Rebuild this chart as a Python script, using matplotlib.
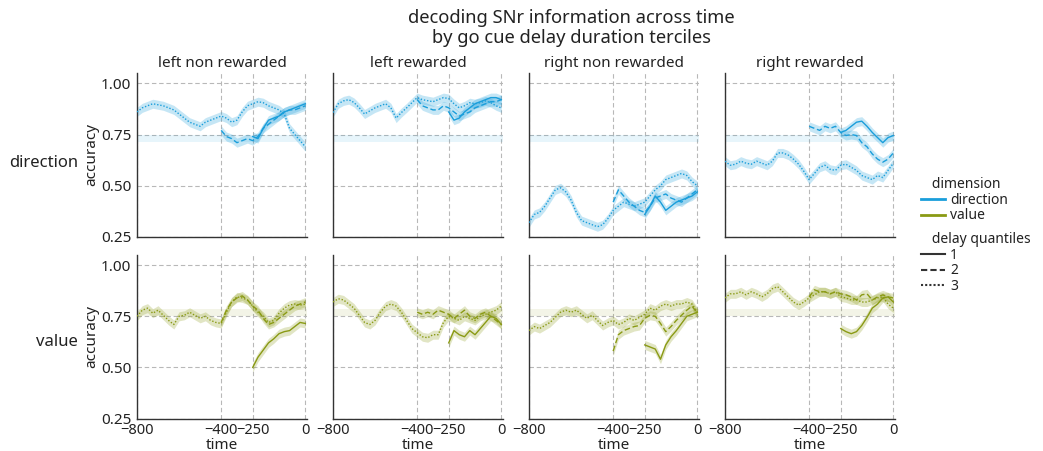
import matplotlib
matplotlib.use("Agg")
import matplotlib.pyplot as plt
from matplotlib.lines import Line2D
import numpy as np

plt.rcParams['font.family'] = ['Noto Sans', 'DejaVu Sans']

# ---------------- data ----------------
columns = ["left non rewarded", "left rewarded", "right non rewarded", "right rewarded"]
rows = ["direction", "value"]
quantiles = ["1", "2", "3"]
xticks = [-800, -400, -250, 0]
yticks = [0.25, 0.50, 0.75, 1.00]

time_q3 = list(range(-800, 1, 25))
time_q2 = list(range(-400, 1, 25))
time_q1 = list(range(-250, 1, 25))

# direction row
dir_lnr_q3 = [0.86, 0.88, 0.89, 0.90, 0.895, 0.89, 0.88, 0.87, 0.85, 0.83, 0.81, 0.80, 0.79, 0.81, 0.82, 0.83, 0.84,
              0.83, 0.81, 0.82, 0.86, 0.89, 0.90, 0.91, 0.905, 0.89, 0.88, 0.87, 0.85, 0.78, 0.75, 0.72, 0.69]
dir_lnr_q2 = [0.77, 0.74, 0.73, 0.71, 0.72, 0.73, 0.72, 0.74, 0.78, 0.80, 0.82, 0.84, 0.86, 0.87, 0.87, 0.88, 0.89]
dir_lnr_q1 = [0.74, 0.73, 0.78, 0.82, 0.83, 0.84, 0.86, 0.87, 0.88, 0.89, 0.90]

dir_lr_q3 = [0.857, 0.90, 0.914, 0.92, 0.906, 0.88, 0.85, 0.865, 0.88, 0.89, 0.90, 0.88, 0.83, 0.857, 0.88, 0.905, 0.93,
             0.92, 0.915, 0.91, 0.92, 0.93, 0.925, 0.90, 0.88, 0.89, 0.905, 0.90, 0.905, 0.914, 0.905, 0.89, 0.88]
dir_lr_q2 = [0.92, 0.89, 0.88, 0.87, 0.87, 0.89, 0.88, 0.86, 0.84, 0.85, 0.86, 0.88, 0.89, 0.90, 0.91, 0.91, 0.92]
dir_lr_q1 = [0.86, 0.82, 0.83, 0.86, 0.88, 0.90, 0.91, 0.92, 0.93, 0.93, 0.92]

dir_rnr_q3 = [0.32, 0.36, 0.37, 0.40, 0.44, 0.48, 0.49, 0.47, 0.43, 0.37, 0.33, 0.32, 0.31, 0.30, 0.31, 0.34, 0.38,
              0.40, 0.42, 0.41, 0.40, 0.41, 0.42, 0.45, 0.48, 0.50, 0.53, 0.54, 0.55, 0.56, 0.55, 0.52, 0.50]
dir_rnr_q2 = [0.42, 0.48, 0.45, 0.42, 0.40, 0.38, 0.37, 0.40, 0.44, 0.45, 0.46, 0.44, 0.43, 0.42, 0.44, 0.46, 0.48]
dir_rnr_q1 = [0.36, 0.40, 0.45, 0.42, 0.38, 0.40, 0.42, 0.43, 0.44, 0.45, 0.47]

dir_rr_q3 = [0.62, 0.60, 0.605, 0.62, 0.61, 0.605, 0.62, 0.61, 0.60, 0.62, 0.66, 0.66, 0.65, 0.63, 0.605, 0.57, 0.53,
             0.56, 0.59, 0.60, 0.58, 0.575, 0.60, 0.605, 0.59, 0.575, 0.55, 0.54, 0.53, 0.55, 0.54, 0.575, 0.61]
dir_rr_q2 = [0.79, 0.78, 0.77, 0.79, 0.78, 0.79, 0.76, 0.745, 0.75, 0.745, 0.71, 0.69, 0.655, 0.63, 0.615, 0.63, 0.66]
dir_rr_q1 = [0.76, 0.77, 0.79, 0.81, 0.815, 0.79, 0.76, 0.735, 0.71, 0.735, 0.745]

# value row
val_lnr_q3 = [0.75, 0.78, 0.79, 0.765, 0.78, 0.755, 0.73, 0.71, 0.75, 0.755, 0.77, 0.755, 0.74, 0.75, 0.73, 0.72, 0.715,
              0.77, 0.82, 0.845, 0.84, 0.83, 0.80, 0.77, 0.75, 0.72, 0.73, 0.765, 0.79, 0.805, 0.81, 0.805, 0.81]
val_lnr_q2 = [0.72, 0.78, 0.82, 0.84, 0.85, 0.83, 0.80, 0.78, 0.74, 0.71, 0.72, 0.74, 0.76, 0.78, 0.80, 0.81, 0.82]
val_lnr_q1 = [0.50, 0.55, 0.585, 0.62, 0.64, 0.665, 0.675, 0.68, 0.70, 0.72, 0.715]

val_lr_q3 = [0.82, 0.836, 0.83, 0.81, 0.79, 0.755, 0.72, 0.71, 0.73, 0.77, 0.80, 0.81, 0.80, 0.77, 0.73, 0.69, 0.67,
             0.65, 0.645, 0.66, 0.66, 0.72, 0.75, 0.74, 0.73, 0.75, 0.74, 0.73, 0.75, 0.76, 0.77, 0.78, 0.80]
val_lr_q2 = [0.77, 0.76, 0.77, 0.76, 0.78, 0.77, 0.76, 0.74, 0.76, 0.78, 0.75, 0.74, 0.76, 0.77, 0.75, 0.73, 0.71]
val_lr_q1 = [0.62, 0.68, 0.66, 0.65, 0.68, 0.66, 0.69, 0.72, 0.75, 0.74, 0.71]

val_rnr_q3 = [0.68, 0.70, 0.69, 0.705, 0.72, 0.745, 0.77, 0.78, 0.77, 0.78, 0.76, 0.74, 0.755, 0.73, 0.705, 0.72, 0.73,
              0.71, 0.72, 0.74, 0.73, 0.745, 0.76, 0.79, 0.78, 0.80, 0.81, 0.80, 0.81, 0.81, 0.82, 0.81, 0.77]
val_rnr_q2 = [0.58, 0.66, 0.68, 0.69, 0.70, 0.705, 0.74, 0.755, 0.75, 0.715, 0.675, 0.70, 0.73, 0.755, 0.78, 0.80, 0.765]
val_rnr_q1 = [0.61, 0.60, 0.59, 0.54, 0.61, 0.65, 0.68, 0.715, 0.75, 0.76, 0.77]

val_rr_q3 = [0.84, 0.86, 0.86, 0.87, 0.855, 0.87, 0.86, 0.845, 0.86, 0.885, 0.895, 0.87, 0.845, 0.82, 0.805, 0.82, 0.84,
             0.855, 0.87, 0.87, 0.86, 0.87, 0.845, 0.84, 0.83, 0.83, 0.82, 0.82, 0.83, 0.84, 0.845, 0.81, 0.79]
val_rr_q2 = [0.845, 0.88, 0.87, 0.87, 0.86, 0.87, 0.86, 0.855, 0.845, 0.83, 0.855, 0.86, 0.83, 0.845, 0.855, 0.845, 0.84]
val_rr_q1 = [0.69, 0.675, 0.665, 0.675, 0.705, 0.745, 0.79, 0.81, 0.84, 0.845, 0.82]

ci_halfwidth = [0.022, 0.022]          # per row (direction, value)
chance_band = [(0.715, 0.75), (0.75, 0.785)]  # shuffled-decoder band per row

panels = {
    ("direction", 0): (dir_lnr_q1, dir_lnr_q2, dir_lnr_q3),
    ("direction", 1): (dir_lr_q1, dir_lr_q2, dir_lr_q3),
    ("direction", 2): (dir_rnr_q1, dir_rnr_q2, dir_rnr_q3),
    ("direction", 3): (dir_rr_q1, dir_rr_q2, dir_rr_q3),
    ("value", 0): (val_lnr_q1, val_lnr_q2, val_lnr_q3),
    ("value", 1): (val_lr_q1, val_lr_q2, val_lr_q3),
    ("value", 2): (val_rnr_q1, val_rnr_q2, val_rnr_q3),
    ("value", 3): (val_rr_q1, val_rr_q2, val_rr_q3),
}

# ---------------- style ----------------
colors = {"direction": "#1a9edb", "value": "#8a9a14"}
styles = ["-", (0, (4, 2)), (0, (1, 1.3))]
times = [time_q1, time_q2, time_q3]

W, H = 1043, 451
fig = plt.figure(figsize=(W / 100, H / 100), dpi=100)

col_left = [137, 333, 529, 725]
ax_w = 170
row_top = [73, 255]
ax_h = [164, 163.5]

FS = 11
TXT = "#222222"
for r, row in enumerate(rows):
    for c in range(4):
        ax = fig.add_axes([col_left[c] / W, 1 - (row_top[r] + ax_h[r]) / H, ax_w / W, ax_h[r] / H])
        col = colors[row]
        lo, hi = chance_band[r]
        ax.axhspan(lo, hi, color=col, alpha=0.1, lw=0, zorder=1)
        for q in range(3):
            y = np.array(panels[(row, c)][q])
            t = np.array(times[q])
            ax.fill_between(t, y - ci_halfwidth[r], y + ci_halfwidth[r], color=col, alpha=0.25, lw=0, zorder=2)
            ax.plot(t, y, color=col, lw=1.0, ls=styles[q], zorder=3)
        ax.set_xlim(-800, 8)
        ax.set_ylim(0.25, 1.05)
        ax.set_xticks(xticks)
        ax.set_yticks(yticks)
        ax.grid(True, ls=(0, (4, 2.5)), color="#b8b8b8", lw=0.8, zorder=0)
        ax.set_axisbelow(True)
        for s in ["top", "right"]:
            ax.spines[s].set_visible(False)
        for s in ["left", "bottom"]:
            ax.spines[s].set_color("#333333")
            ax.spines[s].set_linewidth(1.0)
        ax.tick_params(axis="y", length=0, labelsize=FS, colors=TXT, pad=4)
        ax.tick_params(axis="x", length=0, labelsize=10.5, colors=TXT, pad=3.5)
        if c == 0:
            ax.set_yticklabels(["0.25", "0.50", "0.75", "1.00"])
            ax.set_ylabel("accuracy", fontsize=FS, color=TXT, labelpad=1)
        else:
            ax.set_yticklabels([])
        if r == 1:
            ax.set_xticklabels(["\u2212800", "\u2212400", "\u2212250", "0"])
            ax.set_xlabel("time", fontsize=FS, color=TXT, labelpad=-0.5)
        else:
            ax.set_xticklabels([])
            ax.set_title(columns[c], fontsize=FS, color=TXT, pad=4)

fig.text(78 / W, 1 - 163 / H, "direction", ha="right", va="center", fontsize=12, color=TXT)
fig.text(78 / W, 1 - 342 / H, "value", ha="right", va="center", fontsize=12, color=TXT)

fig.text(571 / W, 1 - 28 / H, "decoding SNr information across time\nby go cue delay duration terciles",
         ha="center", va="center", fontsize=13.2, color=TXT, linespacing=1.2)

h_dim = [Line2D([], [], color=colors["direction"], lw=2), Line2D([], [], color=colors["value"], lw=2)]
leg1 = fig.legend(h_dim, ["direction", "value"], title="   dimension", loc="upper left",
                  bbox_to_anchor=(921 / W, 1 - 177 / H), frameon=False, fontsize=10, title_fontsize=10,
                  handlelength=1.7, handletextpad=0.4, labelspacing=0.05, borderaxespad=0, borderpad=0)
leg1._legend_box.align = "left"
h_q = [Line2D([], [], color="#333333", lw=1.5, ls=s) for s in ["-", (0, (3, 1.5)), (0, (1, 1))]]
leg2 = fig.legend(h_q, quantiles, title="   delay quantiles", loc="upper left",
                  bbox_to_anchor=(921 / W, 1 - 232 / H), frameon=False, fontsize=10, title_fontsize=10,
                  handlelength=1.7, handletextpad=0.4, labelspacing=0.05, borderaxespad=0, borderpad=0)
leg2._legend_box.align = "left"
for lg in (leg1, leg2):
    for tx in lg.get_texts():
        tx.set_color(TXT)
    lg.get_title().set_color(TXT)

fig.savefig("out.png", dpi=100)
